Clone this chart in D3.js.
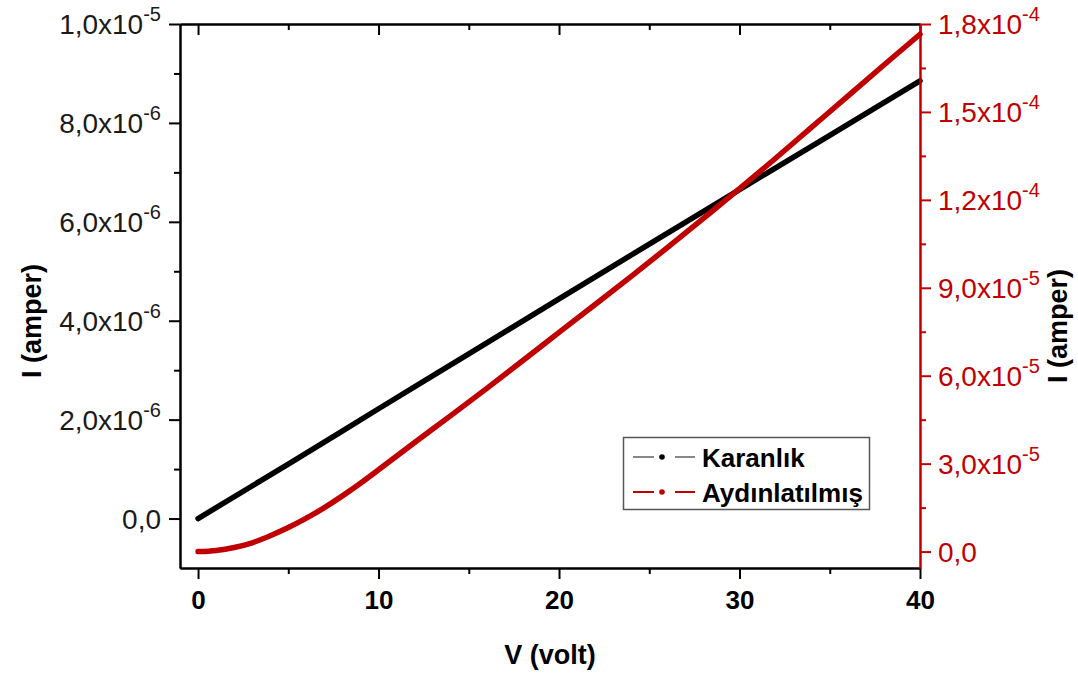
<!DOCTYPE html>
<html>
<head>
<meta charset="utf-8">
<script src="https://cdn.jsdelivr.net/npm/d3@7"></script>
<style>
  html, body { margin: 0; padding: 0; background: #fff; }
  svg { display: block; font-family: "Liberation Sans", Arial, sans-serif; }
</style>
</head>
<body>
<svg id="chart" width="1078" height="673"></svg>
<script>
// ---- data ----
const voltsDark = [0, 5, 10, 15, 20, 25, 30, 35, 40];
const currentDark = [0, 1.10e-6, 2.22e-6, 3.33e-6, 4.44e-6, 5.55e-6, 6.65e-6, 7.75e-6, 8.85e-6];

const voltsLight = [0, 1, 2, 3, 4, 5, 6, 7, 8, 9, 10, 12, 14, 16, 18, 20, 22, 24, 26, 28, 30, 32, 34, 36, 38, 40];
const currentLight = [0, 0.4e-6, 1.4e-6, 3.0e-6, 5.4e-6, 8.2e-6, 11.4e-6, 15.0e-6, 19.0e-6, 23.3e-6, 27.9e-6,
  37.2e-6, 46.4e-6, 55.7e-6, 65.2e-6, 74.8e-6, 84.3e-6, 93.9e-6, 103.7e-6, 113.7e-6, 123.8e-6,
  134.2e-6, 144.8e-6, 155.4e-6, 166.0e-6, 176.5e-6];

const xTicks = [0, 10, 20, 30, 40];
const xMinor = [5, 15, 25, 35];
const leftTicks = [0, 2e-6, 4e-6, 6e-6, 8e-6, 1e-5];
const leftLabels = [["0,0", ""], ["2,0x10", "-6"], ["4,0x10", "-6"], ["6,0x10", "-6"], ["8,0x10", "-6"], ["1,0x10", "-5"]];
const leftMinor = [1e-6, 3e-6, 5e-6, 7e-6, 9e-6];
const rightTicks = [0, 3e-5, 6e-5, 9e-5, 1.2e-4, 1.5e-4, 1.8e-4];
const rightLabels = [["0,0", ""], ["3,0x10", "-5"], ["6,0x10", "-5"], ["9,0x10", "-5"], ["1,2x10", "-4"], ["1,5x10", "-4"], ["1,8x10", "-4"]];
const rightMinor = [1.5e-5, 4.5e-5, 7.5e-5, 1.05e-4, 1.35e-4, 1.65e-4];
const seriesNames = ["Karanlık", "Aydınlatılmış"];

// ---- layout ----
const RED = "#c00000";
const L = 180, R = 920, T = 24, B = 568;
const svg = d3.select("#chart");

const x = d3.scaleLinear().domain([-1, 40]).range([L, R]);
const yL = d3.scaleLinear().domain([-1.0e-6, 1.0e-5]).range([B, T]);
const yR = d3.scaleLinear().domain([-5.6e-6, 1.8e-4]).range([B, T]);

// curves
const darkData = voltsDark.map((v, i) => [v, currentDark[i]]);
const lightData = voltsLight.map((v, i) => [v, currentLight[i]]);

svg.append("path").datum(darkData)
  .attr("fill", "none").attr("stroke", "#000").attr("stroke-width", 5.5)
  .attr("stroke-linecap", "round")
  .attr("d", d3.line().x(d => x(d[0])).y(d => yL(d[1])).curve(d3.curveMonotoneX));

svg.append("path").datum(lightData)
  .attr("fill", "none").attr("stroke", RED).attr("stroke-width", 5.5)
  .attr("stroke-linecap", "round")
  .attr("d", d3.line().x(d => x(d[0])).y(d => yR(d[1])).curve(d3.curveMonotoneX));

// axes
function styleAxis(g, color) {
  g.select(".domain").attr("stroke", color).attr("stroke-width", 2);
  g.selectAll(".tick line").attr("stroke", color).attr("stroke-width", 2);
}

// bottom
const gB = svg.append("g").attr("transform", `translate(0,${B})`)
  .call(d3.axisBottom(x).tickValues(xTicks).tickSize(11).tickSizeOuter(0).tickFormat(d3.format("d")));
styleAxis(gB, "#000");
gB.selectAll("text").attr("font-size", 26).attr("font-weight", "bold").attr("fill", "#000")
  .attr("dy", null).attr("y", 41);
const gBm = svg.append("g").attr("transform", `translate(0,${B})`)
  .call(d3.axisBottom(x).tickValues(xMinor).tickSize(6).tickSizeOuter(0).tickFormat(""));
styleAxis(gBm, "#000");

// top
const gT = svg.append("g").attr("transform", `translate(0,${T})`)
  .call(d3.axisBottom(x).tickValues(xTicks).tickSize(11).tickSizeOuter(0).tickFormat(""));
styleAxis(gT, "#000");
const gTm = svg.append("g").attr("transform", `translate(0,${T})`)
  .call(d3.axisBottom(x).tickValues(xMinor).tickSize(6).tickSizeOuter(0).tickFormat(""));
styleAxis(gTm, "#000");

// left
const gL = svg.append("g").attr("transform", `translate(${L},0)`)
  .call(d3.axisLeft(yL).tickValues(leftTicks).tickSize(11).tickSizeOuter(0).tickFormat(""));
styleAxis(gL, "#000");
const gLm = svg.append("g").attr("transform", `translate(${L},0)`)
  .call(d3.axisLeft(yL).tickValues(leftMinor).tickSize(6).tickSizeOuter(0).tickFormat(""));
styleAxis(gLm, "#000");

// right
const gR = svg.append("g").attr("transform", `translate(${R},0)`)
  .call(d3.axisRight(yR).tickValues(rightTicks).tickSize(11).tickSizeOuter(0).tickFormat(""));
styleAxis(gR, RED);
const gRm = svg.append("g").attr("transform", `translate(${R},0)`)
  .call(d3.axisRight(yR).tickValues(rightMinor).tickSize(6).tickSizeOuter(0).tickFormat(""));
styleAxis(gRm, RED);

// tick labels with superscripts
function sciLabel(g, xPos, yPos, parts, anchor, color) {
  const t = g.append("text").attr("x", xPos).attr("y", yPos)
    .attr("text-anchor", anchor).attr("font-size", 28).attr("fill", color);
  t.append("tspan").text(parts[0]);
  if (parts[1]) t.append("tspan").attr("font-size", 20).attr("dy", -13).text(parts[1]);
}
const labelsG = svg.append("g");
leftTicks.forEach((v, i) => sciLabel(labelsG, 161, yL(v) + 10, leftLabels[i], "end", "#1a1a1a"));
rightTicks.forEach((v, i) => sciLabel(labelsG, 938, yR(v) + 10, rightLabels[i], "start", RED));

// axis titles
svg.append("text").attr("x", 550).attr("y", 664).attr("text-anchor", "middle")
  .attr("font-size", 27).attr("font-weight", "bold").text("V (volt)");
svg.append("text").attr("transform", "translate(41,321) rotate(-90)").attr("text-anchor", "middle")
  .attr("font-size", 27).attr("font-weight", "bold").text("I (amper)");
svg.append("text").attr("transform", "translate(1067,326) rotate(-90)").attr("text-anchor", "middle")
  .attr("font-size", 27).attr("font-weight", "bold").text("I (amper)");

// legend
const lg = svg.append("g");
lg.append("rect").attr("x", 623.5).attr("y", 437.5).attr("width", 246).attr("height", 72)
  .attr("fill", "#fff").attr("stroke", "#555").attr("stroke-width", 1.5);
const legendColors = [["#888", "#000"], [RED, RED]];
seriesNames.forEach((name, i) => {
  const cy = 457 + i * 35;
  lg.append("line").attr("x1", 633).attr("x2", 654).attr("y1", cy).attr("y2", cy)
    .attr("stroke", legendColors[i][0]).attr("stroke-width", 2);
  lg.append("line").attr("x1", 675).attr("x2", 695).attr("y1", cy).attr("y2", cy)
    .attr("stroke", legendColors[i][0]).attr("stroke-width", 2);
  lg.append("circle").attr("cx", 662).attr("cy", cy).attr("r", 2.8).attr("fill", legendColors[i][1]);
  lg.append("text").attr("x", 702).attr("y", cy + 10).attr("font-size", 26)
    .attr("font-weight", "bold").attr("fill", "#000").text(name);
});
</script>
</body>
</html>
